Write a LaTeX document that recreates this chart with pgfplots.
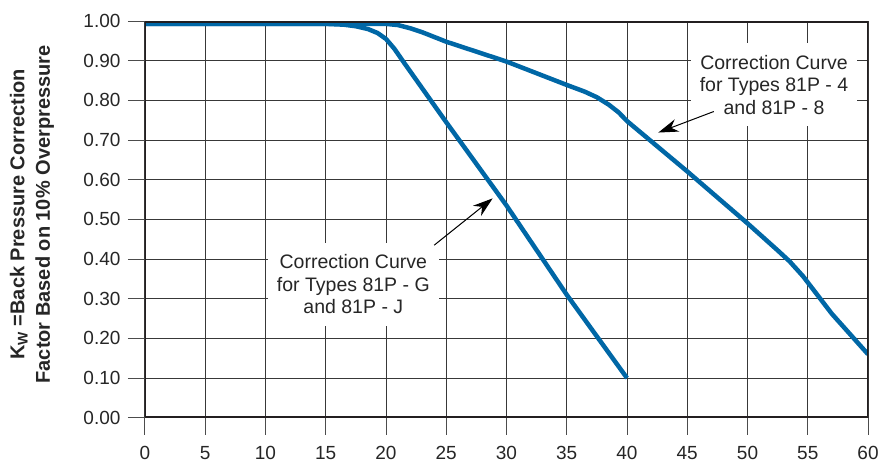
\documentclass[border=0pt]{standalone}
\usepackage{fontspec}
\setmainfont{Liberation Sans}
\usepackage{pgfplots}
\pgfplotsset{compat=1.18}
\usetikzlibrary{arrows.meta}
\definecolor{curveblue}{RGB}{0,103,166}
\definecolor{frameblack}{RGB}{35,31,32}
\begin{document}
\begin{tikzpicture}
\useasboundingbox (-145pt,-46.3pt) rectangle (745pt,417.7pt);
\begin{axis}[
  at={(0,0)}, anchor=south west,
  scale only axis, width=723pt, height=396.6pt,
  xmin=0, xmax=60, ymin=0, ymax=1,
  xtick={0,5,10,15,20,25,30,35,40,45,50,55,60},
  ytick={0,0.1,0.2,0.3,0.4,0.5,0.6,0.7,0.8,0.9,1.0},
  grid=major,
  major grid style={black!78, line width=1pt},
  tick align=outside, major tick length=17pt,
  tick style={black!70, line width=1pt},
  xtick pos=bottom, ytick pos=left,
  axis line style={draw=none},
  /pgf/number format/assume math mode=true,
  ticklabel style={font=\fontsize{19}{22}\selectfont, text=black!85},
  yticklabel style={xshift=-4pt, /pgf/number format/.cd, fixed, fixed zerofill, precision=2},
  xticklabel style={yshift=-8pt, /pgf/number format/.cd, fixed, precision=0},
  ylabel={K\textsubscript{W} =Back Pressure Correction\\Factor Based on 10\% Overpressure},
  every axis y label/.style={at={(rel axis cs:0,0.5)}, xshift=-113pt, yshift=5pt, rotate=90, anchor=center,
    align=center, text=black!85, font=\bfseries\fontsize{20}{25.5}\selectfont},
]
\node[fill=white, align=center, inner xsep=9pt, inner ysep=12pt, text=black!85,
  font=\fontsize{19.5}{22.3}\selectfont] at (axis cs:52.2,0.839)
  {Correction Curve\\for Types 81P - 4\\and 81P - 8};
\node[fill=white, align=center, inner xsep=9pt, inner ysep=12pt, text=black!85,
  font=\fontsize{19.5}{22.3}\selectfont] at (axis cs:17.29,0.337)
  {Correction Curve\\for Types 81P - G\\and 81P - J};

\addplot[curveblue, line width=4.5pt, line join=round] coordinates {
  (0,0.993) (15,0.993) (16.5,0.991) (17.5,0.987) (18.5,0.98) (19.3,0.97) (20,0.955)
  (20.7,0.93) (21.5,0.895) (25,0.745) (30,0.535) (35,0.31) (40,0.10)
};
\addplot[curveblue, line width=4.5pt, line join=round] coordinates {
  (0,0.993) (20,0.993) (21,0.99) (22,0.982) (23,0.972) (25,0.948) (30,0.898)
  (35,0.839) (36.5,0.822) (37.5,0.808) (38.5,0.789) (39.3,0.770) (40,0.748)
  (45,0.621) (50,0.490) (52.5,0.422) (53.5,0.394) (54.6,0.357) (57,0.262) (60,0.16)
};

\draw[-{Stealth[length=20pt,width=13pt]}, line width=1pt, black]
  (axis cs:47.2,0.772) -- (axis cs:42.6,0.719);
\draw[-{Stealth[length=20pt,width=13pt]}, line width=1pt, black]
  (axis cs:24.0,0.435) -- (axis cs:28.85,0.553);

\draw[frameblack, line width=3pt] (rel axis cs:0,0) rectangle (rel axis cs:1,1);
\end{axis}
\end{tikzpicture}
\end{document}
